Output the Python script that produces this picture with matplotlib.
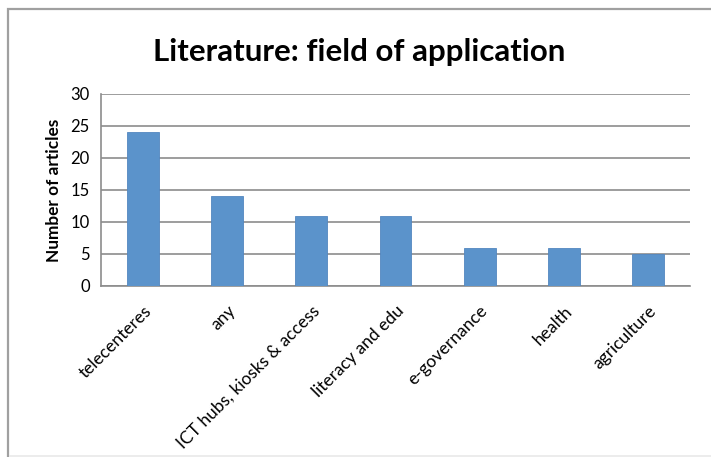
import matplotlib.pyplot as plt
from matplotlib.patches import Rectangle

categories = ["telecenteres", "any", "ICT hubs, kiosks & access", "literacy and edu",
              "e-governance", "health", "agriculture"]
articles = [24, 14, 11, 11, 6, 6, 5]
y_ticks = [0, 5, 10, 15, 20, 25, 30]

plt.rcParams['font.family'] = ['Lato', 'DejaVu Sans']

W, H = 711, 457
fig = plt.figure(figsize=(W / 100, H / 100), dpi=100)

# chart frame: grey border running off the right and bottom edges
fig.patches.append(Rectangle((8 / W, -0.1), 1.2, 1.1 - 9 / H,
                             transform=fig.transFigure, fill=False,
                             edgecolor='#a0a0a0', linewidth=1.6))
# faint strip along the bottom
fig.patches.append(Rectangle((9 / W, 0), 1.2, 2.5 / H, transform=fig.transFigure,
                             facecolor='#ececec', edgecolor='none'))

left, right, top, bottom = 101, 690, 94, 286
ax = fig.add_axes([left / W, 1 - bottom / H, (right - left) / W, (bottom - top) / H])

x = range(len(categories))
ax.bar(x, articles, width=0.38, color='#5b93cb', edgecolor='#5387c0', linewidth=0.6, zorder=3)

ax.set_xlim(-0.5, len(categories) - 0.5)
ax.set_ylim(0, 30)
ax.set_yticks(y_ticks)
ax.set_yticklabels([str(t) for t in y_ticks], fontsize=12)
ax.yaxis.grid(True, color='#8c8c8c', linewidth=1.2, zorder=0)
ax.tick_params(axis='y', length=0, pad=8)
ax.tick_params(axis='x', length=0, pad=12)
ax.set_xticks(list(x))
ax.set_xticklabels(categories, rotation=45, ha='right', rotation_mode='anchor', fontsize=12.5)

for s in ['top', 'right']:
    ax.spines[s].set_visible(False)
for s in ['left', 'bottom']:
    ax.spines[s].set_color('#8c8c8c')
    ax.spines[s].set_linewidth(1.2)

ax.set_ylabel("Number of articles", fontsize=12.4, fontweight='bold', labelpad=6)

fig.text(359 / W, 1 - 52 / H, "Literature: field of application", ha='center', va='center',
         fontsize=22.5, fontweight='bold')

fig.savefig("out.png", dpi=100)
